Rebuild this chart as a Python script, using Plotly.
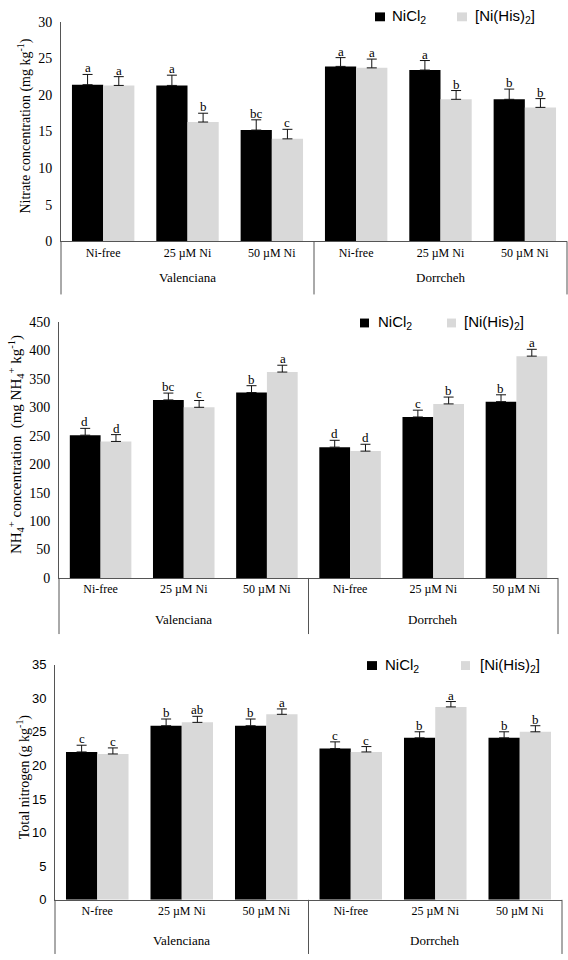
import plotly.graph_objects as go

# ---------------- data ----------------
groups = ["Valenciana", "Dorrcheh"]
cats_top = ["Ni-free", "25 µM Ni", "50 µM Ni", "Ni-free", "25 µM Ni", "50 µM Ni"]
cats_bot = ["N-free", "25 µM Ni", "50 µM Ni", "Ni-free", "25 µM Ni", "50 µM Ni"]
series_names = ["NiCl<sub>2</sub>", "[Ni(His)<sub>2</sub>]"]

nitrate_nicl2 = [21.4, 21.3, 15.2, 23.9, 23.4, 19.4]
nitrate_nihis = [21.3, 16.3, 14.0, 23.7, 19.4, 18.3]
nitrate_err_nicl2 = [1.4, 1.4, 1.4, 1.2, 1.3, 1.4]
nitrate_err_nihis = [1.2, 1.2, 1.3, 1.2, 1.2, 1.2]
nitrate_let_nicl2 = ["a", "a", "bc", "a", "a", "b"]
nitrate_let_nihis = ["a", "b", "c", "a", "b", "b"]

nh4_nicl2 = [251, 313, 326, 230, 283, 310]
nh4_nihis = [240, 300, 362, 223, 306, 390]
nh4_err_nicl2 = [12, 12, 12, 12, 12, 12]
nh4_err_nihis = [12, 12, 12, 12, 12, 12]
nh4_let_nicl2 = ["d", "bc", "b", "d", "c", "b"]
nh4_let_nihis = ["d", "c", "a", "d", "b", "a"]

totn_nicl2 = [22.0, 25.9, 25.9, 22.5, 24.1, 24.1]
totn_nihis = [21.7, 26.4, 27.6, 22.0, 28.7, 25.0]
totn_err_nicl2 = [1.0, 1.0, 1.0, 1.0, 0.9, 0.9]
totn_err_nihis = [0.9, 0.9, 0.8, 0.8, 0.8, 0.9]
totn_let_nicl2 = ["c", "b", "b", "c", "b", "b"]
totn_let_nihis = ["c", "ab", "a", "c", "a", "b"]

# ---------------- layout helpers ----------------
W, H = 568, 960
BLACK = "#000000"
GRAY = "#d9d9d9"
AXC = "#555555"
SERIF = "Liberation Serif, Times New Roman, serif"
SANS = "Liberation Sans, Arial, sans-serif"

def fy(py):
    return 1 - py / H

def fx(px):
    return px / W

panels = [
    dict(v1=nitrate_nicl2, v2=nitrate_nihis, e1=nitrate_err_nicl2, e2=nitrate_err_nihis,
         l1=nitrate_let_nicl2, l2=nitrate_let_nihis, cats=cats_top,
         x0=61, x1=567, y0=238, y1=15, yr=[0, 30], dt=5, gap=0.26,
         box_bottom=292, grp_y=275,
         title="Nitrate concentration (mg kg<sup>-1</sup>)", title_x=25, title_size=14,
         tickfont=dict(family=SERIF, size=14, color="black"),
         leg=dict(y=10, bx=(375, 385), tx=390, gx=(457, 467), gtx=473)),
    dict(v1=nh4_nicl2, v2=nh4_nihis, e1=nh4_err_nicl2, e2=nh4_err_nihis,
         l1=nh4_let_nicl2, l2=nh4_let_nihis, cats=cats_top,
         x0=59, x1=558, y0=580, y1=320, yr=[0, 450], dt=50, gap=0.25,
         box_bottom=637, grp_y=622,
         title="NH<sub>4</sub><sup>+</sup> concentration  (mg NH<sub>4</sub><sup>+</sup> kg<sup>-1</sup>)",
         title_x=16, title_size=15,
         tickfont=dict(family=SERIF, size=14, color="black"),
         leg=dict(y=321, bx=(360, 369), tx=376, gx=(447, 456), gtx=462)),
    dict(v1=totn_nicl2, v2=totn_nihis, e1=totn_err_nicl2, e2=totn_err_nihis,
         l1=totn_let_nicl2, l2=totn_let_nihis, cats=cats_bot,
         x0=55, x1=562, y0=907, y1=668, yr=[0, 35], dt=5, gap=0.27,
         box_bottom=962, grp_y=948,
         title="Total nitrogen (g kg<sup>-1</sup>)", title_x=23, title_size=14,
         tickfont=dict(family=SANS, size=13, color="black"),
         leg=dict(y=669, bx=(367, 377), tx=383, gx=(461, 470), gtx=478)),
]

fig = go.Figure()
shapes = []
annotations = []
layout_axes = {}

for k, p in enumerate(panels):
    sfx = "" if k == 0 else str(k + 1)
    xa, ya = "x" + sfx, "y" + sfx
    xs = list(range(len(p["cats"])))
    for vals, errs, col, nm in [(p["v1"], p["e1"], BLACK, series_names[0]),
                               (p["v2"], p["e2"], GRAY, series_names[1])]:
        fig.add_trace(go.Bar(
            x=xs, y=vals, name=nm, showlegend=False,
            marker=dict(color=col, line=dict(width=0)),
            error_y=dict(type="data", symmetric=False, array=errs,
                         arrayminus=[0] * len(errs), color="#111",
                         thickness=1, width=5),
            xaxis=xa, yaxis=ya, hoverinfo="skip",
        ))
    bw = (1 - p["gap"]) / 2
    for vals, errs, lets, off in [(p["v1"], p["e1"], p["l1"], -bw / 2),
                                  (p["v2"], p["e2"], p["l2"], bw / 2)]:
        for i, (v, e, t) in enumerate(zip(vals, errs, lets)):
            annotations.append(dict(
                x=i + off, y=v + e, xref=xa, yref=ya, text=t, showarrow=False,
                yanchor="bottom", yshift=-3,
                font=dict(family=SERIF, size=13, color="black")))

    layout_axes["xaxis" + sfx] = dict(
        domain=[fx(p["x0"]), fx(p["x1"])], range=[-0.5, 5.5], anchor=ya,
        tickmode="array", tickvals=xs, ticktext=p["cats"],
        tickfont=dict(family=SERIF, size=12, color="black"),
        ticks="", 
        showline=True, linecolor=AXC, linewidth=1, showgrid=False,
        zeroline=False, fixedrange=True)
    layout_axes["yaxis" + sfx] = dict(
        domain=[fy(p["y0"]), fy(p["y1"])], range=p["yr"], anchor=xa,
        dtick=p["dt"], tickfont=p["tickfont"],
        ticks="outside", ticklen=5, tickcolor="rgba(0,0,0,0)",
        showline=True, linecolor=AXC, linewidth=1, showgrid=False,
        zeroline=False, fixedrange=True)

    # group box lines below the axis
    yb = fy(p["box_bottom"])
    yz = fy(p["y0"])
    for xv, xr in [(0, xa + " domain"), (2.5, xa), (1, xa + " domain")]:
        shapes.append(dict(type="line", xref=xr, yref="paper",
                           x0=xv, x1=xv, y0=yz, y1=yb,
                           line=dict(color=AXC, width=1)))
    for gi, g in enumerate(groups):
        annotations.append(dict(x=1 + 3 * gi, y=fy(p["grp_y"]), xref=xa, yref="paper",
                                text=g, showarrow=False, yanchor="middle",
                                font=dict(family=SERIF, size=13, color="black")))
    # y title
    annotations.append(dict(x=fx(p["title_x"]), y=fy((p["y0"] + p["y1"]) / 2 - 5),
                            xref="paper", yref="paper", text=p["title"],
                            textangle=-90, showarrow=False,
                            xanchor="center", yanchor="middle",
                            font=dict(family=SERIF, size=p["title_size"], color="black")))
    # legend
    L = p["leg"]
    for (bx0, bx1), col, tx, nm in [(L["bx"], BLACK, L["tx"], series_names[0]),
                                   (L["gx"], GRAY, L["gtx"], series_names[1])]:
        shapes.append(dict(type="rect", xref="paper", yref="paper",
                           x0=fx(bx0), x1=fx(bx1), y0=fy(L["y"] - 4.5), y1=fy(L["y"] + 4.5),
                           fillcolor=col, line=dict(width=0)))
        annotations.append(dict(x=fx(tx), y=fy(L["y"]), xref="paper", yref="paper",
                                text=nm, showarrow=False, xanchor="left", yanchor="middle",
                                font=dict(family=SANS, size=15, color="black")))

fig.update_layout(
    width=W, height=H, margin=dict(l=0, r=0, t=0, b=0),
    paper_bgcolor="white", plot_bgcolor="white",
    barmode="group", bargroupgap=0,
    shapes=shapes, annotations=annotations, showlegend=False,
    **layout_axes,
)
fig.update_layout(bargap=0.26)

fig.write_html("out.html", config={"displayModeBar": False, "staticPlot": True},
               post_script="document.body.style.margin='0';document.body.style.overflow='hidden';")
